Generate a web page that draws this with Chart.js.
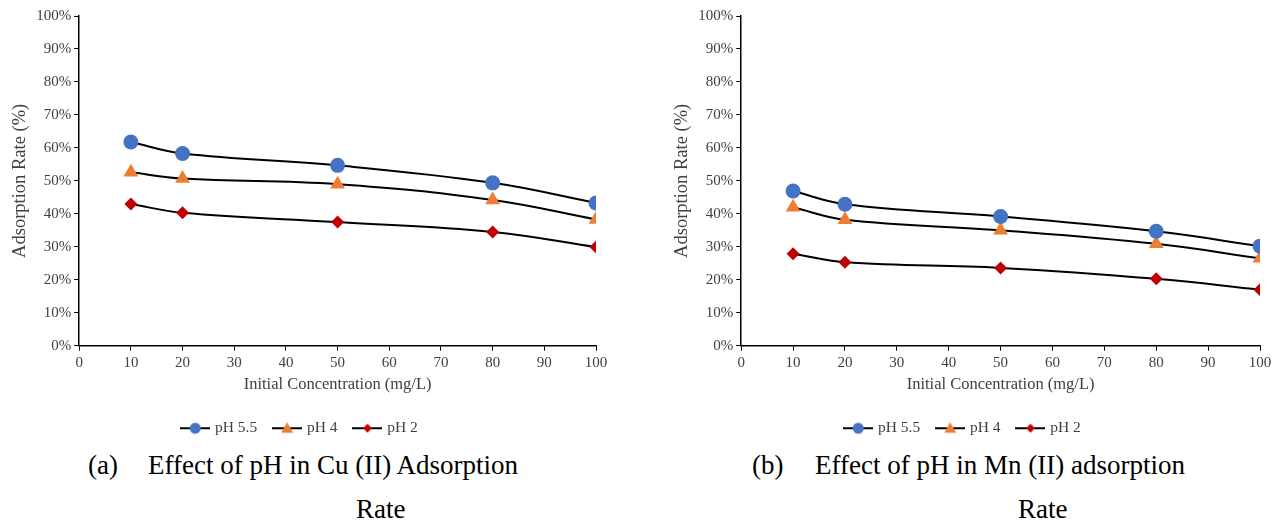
<!DOCTYPE html>
<html>
<head>
<meta charset="utf-8">
<script src="https://cdn.jsdelivr.net/npm/chart.js@4"></script>
<style>
  body { margin: 0; background: #fff; width: 1277px; height: 522px; position: relative; overflow: hidden; }
  .box { position: absolute; top: 0; height: 450px; }
  .cap { position: absolute; font-family: "Liberation Serif", serif; font-size: 27px; line-height: 27px; color: #000; white-space: pre; }
</style>
</head>
<body>
<div class="box" style="left:0;width:640px"><canvas id="cu"></canvas></div>
<div class="box" style="left:662px;width:615px"><canvas id="mn"></canvas></div>
<div class="cap" style="left:88px;top:452px">(a)</div>
<div class="cap" style="left:148px;top:452px">Effect of pH in Cu (II) Adsorption</div>
<div class="cap" style="left:356px;top:496px">Rate</div>
<div class="cap" style="left:752px;top:452px">(b)</div>
<div class="cap" style="left:815px;top:452px">Effect of pH in Mn (II) adsorption</div>
<div class="cap" style="left:1018px;top:496px">Rate</div>
<script>
const conc = [10, 20, 50, 80, 100]
const seriesNames = ['pH 5.5', 'pH 4', 'pH 2']
const cuPh55 = [61.8, 58.3, 54.7, 49.4, 43.3]
const cuPh4 = [52.6, 50.7, 49.0, 44.2, 38.3]
const cuPh2 = [43.0, 40.3, 37.5, 34.5, 29.9]
const mnPh55 = [46.9, 42.9, 39.2, 34.7, 30.2]
const mnPh4 = [42.0, 38.2, 35.0, 30.9, 26.5]
const mnPh2 = [27.9, 25.3, 23.6, 20.3, 17.0]

const colors = ['#4472C4', '#ED7D31', '#C00000']
const styles = ['circle', 'triangle', 'rectRot']
const radii = [7.5, 8.5, 6.5]
const font = 'Liberation Serif'
const textColor = '#404040'

// legend icon: black line with the marker on it
function legendIcon(i) {
  const c = document.createElement('canvas')
  c.width = 30; c.height = 14
  const ctx = c.getContext('2d')
  ctx.strokeStyle = '#000'; ctx.lineWidth = 2
  ctx.beginPath(); ctx.moveTo(0, 7); ctx.lineTo(30, 7); ctx.stroke()
  ctx.fillStyle = colors[i]
  ctx.beginPath()
  if (i == 0) ctx.arc(15, 7, 5.5, 0, Math.PI * 2)
  else if (i == 1) { ctx.moveTo(15, 1); ctx.lineTo(21, 11.5); ctx.lineTo(9, 11.5); ctx.closePath() }
  else { ctx.moveTo(15, 2.5); ctx.lineTo(19.5, 7); ctx.lineTo(15, 11.5); ctx.lineTo(10.5, 7); ctx.closePath() }
  ctx.fill()
  return c
}

function makeChart(id, values, padRight) {
  const icons = [0, 1, 2].map(legendIcon)
  return new Chart(document.getElementById(id), {
    type: 'line',
    data: {
      datasets: values.map((v, i) => ({
        label: seriesNames[i],
        data: v.map((y, j) => ({ x: conc[j], y: y })),
        borderColor: '#000',
        borderWidth: 2,
        tension: 0.4,
        pointStyle: styles[i],
        pointRadius: radii[i],
        pointBackgroundColor: colors[i],
        pointBorderColor: colors[i],
        pointBorderWidth: 0,
        fill: false
      }))
    },
    options: {
      responsive: true,
      maintainAspectRatio: false,
      animation: false,
      layout: { padding: { top: 16, right: padRight, left: 5, bottom: 4 } },
      plugins: {
        tooltip: { enabled: false },
        legend: {
          position: 'bottom',
          labels: {
            font: { family: font, size: 15.5 },
            color: textColor,
            usePointStyle: true,
            pointStyleWidth: 24,
            padding: 18,
            generateLabels: chart => chart.data.datasets.map((d, i) => ({
              text: d.label, pointStyle: icons[i], datasetIndex: i,
              fontColor: textColor, lineWidth: 0, strokeStyle: 'transparent'
            }))
          }
        }
      },
      scales: {
        x: {
          type: 'linear', min: 0, max: 100,
          ticks: { stepSize: 10, color: textColor, font: { family: font, size: 15 }, padding: 3 },
          grid: { display: true, drawOnChartArea: false, color: '#000', tickLength: 5 },
          border: { color: '#000', width: 1.5 },
          title: { display: true, text: 'Initial Concentration (mg/L)', color: textColor, font: { family: font, size: 16.5 }, padding: { top: 0, bottom: 8 } }
        },
        y: {
          min: 0, max: 100,
          ticks: { stepSize: 10, color: textColor, font: { family: font, size: 15 }, callback: v => v + '%' },
          grid: { display: true, drawOnChartArea: false, color: '#000', tickLength: 5 },
          border: { color: '#000', width: 1.5 },
          title: { display: true, text: 'Adsorption Rate (%)', color: textColor, font: { family: font, size: 18.5 }, padding: { bottom: 2 } }
        }
      }
    }
  })
}

makeChart('cu', [cuPh55, cuPh4, cuPh2], 44)
makeChart('mn', [mnPh55, mnPh4, mnPh2], 17)
</script>
</body>
</html>
